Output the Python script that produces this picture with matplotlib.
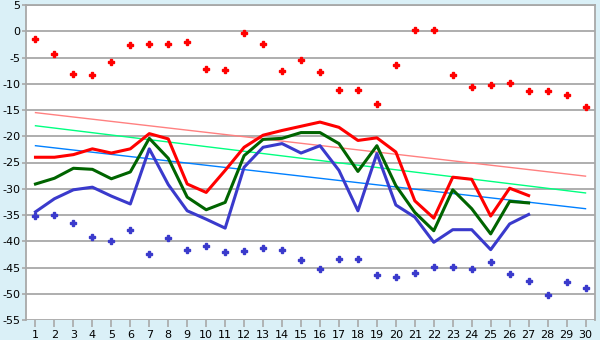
import matplotlib
matplotlib.use("Agg")
import matplotlib.pyplot as plt

plt.rcParams["axes.unicode_minus"] = False

days = list(range(1, 31))
line_days = list(range(1, 28))

max_points = [-1.4, -4.3, -8.1, -8.3, -5.9, -2.7, -2.5, -2.5, -2.0, -7.1,
              -7.3, -0.25, -2.5, -7.5, -5.4, -7.7, -11.1, -11.1, -13.8, -6.5,
              0.3, 0.3, -8.3, -10.6, -10.2, -9.8, -11.3, -11.3, -12.1, -14.4]
min_points = [-35.2, -35.0, -36.5, -39.2, -39.9, -37.8, -42.4, -39.4, -41.7, -40.9,
              -42.0, -41.9, -41.3, -41.7, -43.6, -45.3, -43.4, -43.4, -46.4, -46.8,
              -46.1, -44.9, -44.9, -45.3, -43.9, -46.2, -47.6, -50.2, -47.8, -48.9]

red_line = [-24.0, -24.0, -23.5, -22.4, -23.2, -22.4, -19.5, -20.5, -29.1, -30.7,
            -26.5, -22.1, -19.8, -18.9, -18.1, -17.3, -18.3, -20.8, -20.3, -23.0,
            -32.3, -35.6, -27.8, -28.2, -35.2, -29.9, -31.3]
green_line = [-29.1, -28.0, -26.1, -26.3, -28.1, -26.8, -20.4, -24.2, -31.6, -34.0,
              -32.6, -23.7, -20.6, -20.4, -19.3, -19.3, -21.4, -26.7, -21.8, -29.4,
              -34.5, -38.0, -30.2, -33.8, -38.6, -32.4, -32.7]
blue_line = [-34.4, -31.9, -30.2, -29.7, -31.4, -32.9, -22.4, -29.2, -34.2, -35.8,
             -37.5, -25.9, -22.1, -21.4, -23.2, -21.8, -26.5, -34.2, -23.3, -33.1,
             -35.4, -40.2, -37.8, -37.8, -41.6, -36.7, -34.9]

trend_days = [1, 30]
trend_max = [-15.5, -27.6]
trend_mid = [-18.0, -30.8]
trend_min = [-21.8, -33.8]

yticks = list(range(-55, 6, 5))

fig = plt.figure(figsize=(6, 3.4), dpi=100, facecolor="#daf0f7")
ax = fig.add_axes([26/600, 20/340, 569/600, 315/340])
ax.set_facecolor("white")

for y in yticks:
    ax.axhline(y, color="#a8a8a8", lw=1.3, zorder=1)

ax.plot(trend_days, trend_max, color="#ff8080", lw=1.0, zorder=2)
ax.plot(trend_days, trend_mid, color="#00ff80", lw=1.0, zorder=2)
ax.plot(trend_days, trend_min, color="#0080ff", lw=1.0, zorder=2)

ax.plot(line_days, red_line, color="#ff0000", lw=2.2, zorder=4)
ax.plot(line_days, green_line, color="#006400", lw=2.2, zorder=3)
ax.plot(line_days, blue_line, color="#3a3acc", lw=2.2, zorder=3)

ax.plot(days, max_points, ls="none", marker="P", ms=5, color="#ff0000",
        mec="#ff0000", zorder=5)
ax.plot(days, min_points, ls="none", marker="P", ms=5, color="#3a3acc",
        mec="#3a3acc", zorder=5)

ax.set_xlim(0.5, 30.5)
ax.set_ylim(-55, 5)
ax.set_xticks(days)
ax.set_yticks(yticks)
for s in ["top", "right", "left"]:
    ax.spines[s].set_color("#a8a8a8")
    ax.spines[s].set_linewidth(1.3)
ax.spines["bottom"].set_visible(False)
ax.tick_params(axis="x", length=5, color="#a8a8a8", width=1.2, labelsize=8, pad=2)
ax.tick_params(axis="y", length=3, color="#a8a8a8", width=1.2, labelsize=8, pad=1)

fig.savefig("out.png", dpi=100, facecolor=fig.get_facecolor())
